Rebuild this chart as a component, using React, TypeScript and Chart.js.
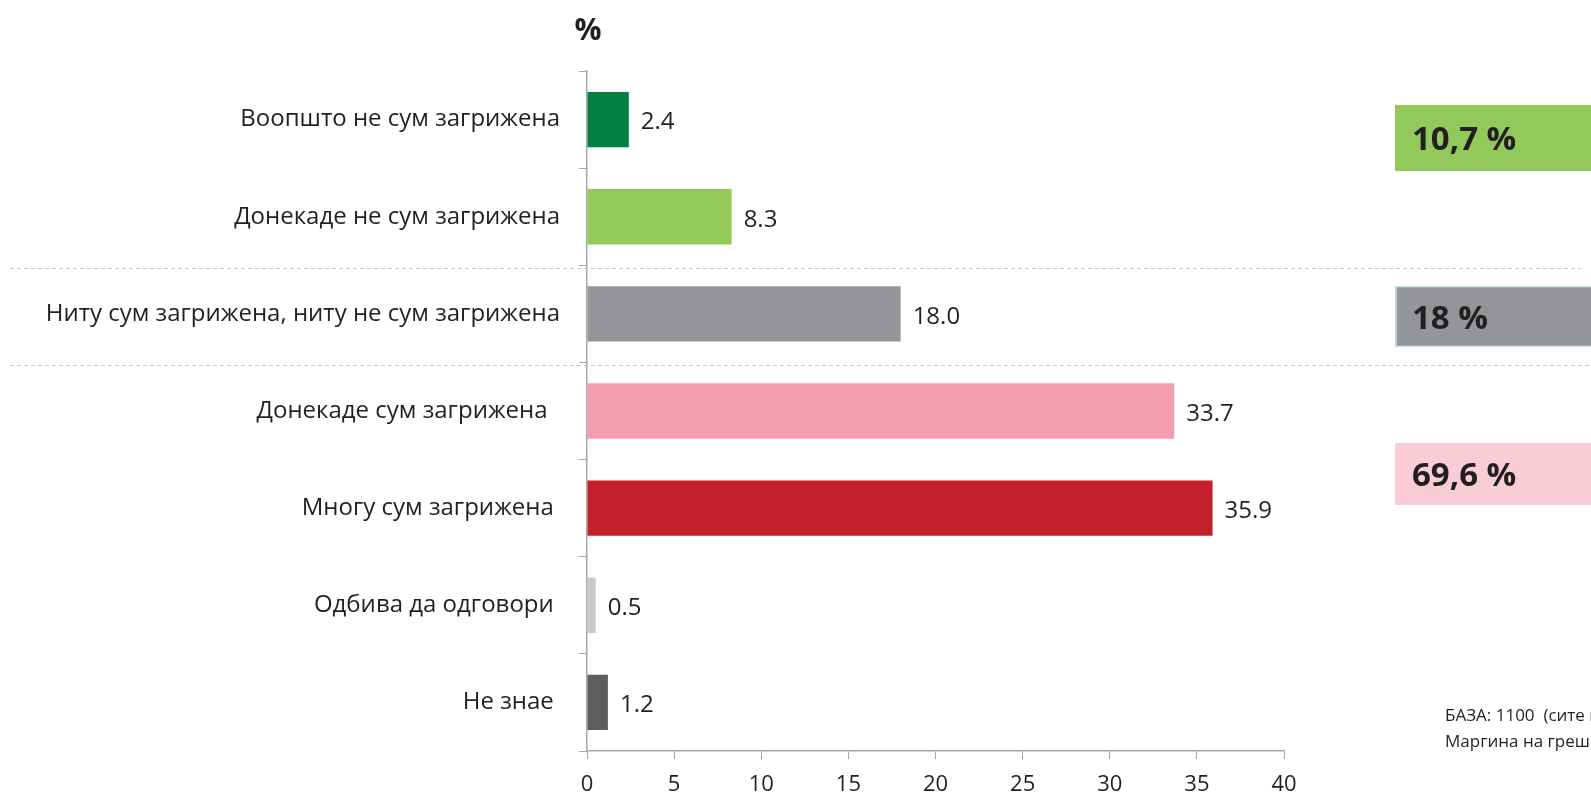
import React, { useEffect, useRef } from 'react';
import { Chart, registerables } from 'chart.js';

Chart.register(...registerables);

const categories = [
  'Воопшто не сум загрижена',
  'Донекаде не сум загрижена',
  'Ниту сум загрижена, ниту не сум загрижена',
  'Донекаде сум загрижена  ',
  'Многу сум загрижена ',
  'Одбива да одговори ',
  'Не знае ',
];
const values = [2.4, 8.3, 18.0, 33.7, 35.9, 0.5, 1.2];
const valueLabels = ['2.4', '8.3', '18.0', '33.7', '35.9', '0.5', '1.2'];
const barColors = ['#008140', '#92C95A', '#939598', '#F49DB2', '#C41F2A', '#C8C9CB', '#5E5E60'];
const groupLabels = ['10,7 %', '18 %', '69,6 %'];
const groupColors = ['#92C95A', '#939598', '#F8CDD8'];
const baseNotes = ['БАЗА: 1100  (сите испитаници)', 'Маргина на грешка: ±3%'];
const axisUnit = '%';

const FONT = '"Open Sans", "Noto Sans", sans-serif';

export default function App() {
  const ref = useRef<HTMLCanvasElement | null>(null);

  useEffect(() => {
    document.body.style.margin = '0';
    const canvas = ref.current;
    if (!canvas) return;

    const extras = {
      id: 'extras',
      beforeDatasetsDraw(chart: any) {
        const ctx = chart.ctx;
        const ys = chart.scales.y;
        ctx.save();
        ctx.strokeStyle = '#C8C8C8';
        ctx.lineWidth = 1;
        ctx.setLineDash([4, 3]);
        const seps = [
          { a: 1, b: 2, x2: 1581 },
          { a: 2, b: 3, x2: 1591 },
        ];
        seps.forEach((s) => {
          const y = Math.round((ys.getPixelForValue(s.a) + ys.getPixelForValue(s.b)) / 2 + 3) + 0.5;
          ctx.beginPath();
          ctx.moveTo(10, y);
          ctx.lineTo(s.x2, y);
          ctx.stroke();
        });
        ctx.restore();
      },
      afterDraw(chart: any) {
        const ctx = chart.ctx;
        ctx.save();
        // value labels
        const meta = chart.getDatasetMeta(0);
        ctx.font = `24px ${FONT}`;
        ctx.fillStyle = '#231F20';
        ctx.textBaseline = 'middle';
        ctx.textAlign = 'left';
        meta.data.forEach((bar: any, i: number) => {
          ctx.fillText(valueLabels[i], bar.x + 12, bar.y + 3);
        });
        // unit label
        ctx.font = `bold 30px ${FONT}`;
        ctx.textAlign = 'center';
        ctx.fillText(axisUnit, 588, 31);
        // group boxes
        const boxes = [
          { y: 105, h: 66, border: null },
          { y: 286, h: 61, border: '#CDE7EA' },
          { y: 443, h: 62, border: null },
        ];
        boxes.forEach((b, i) => {
          ctx.fillStyle = groupColors[i];
          ctx.fillRect(1395, b.y, 200, b.h);
          if (b.border) {
            ctx.strokeStyle = b.border;
            ctx.lineWidth = 1.5;
            ctx.strokeRect(1396, b.y + 0.5, 200, b.h - 1);
          }
          ctx.fillStyle = '#231F20';
          ctx.font = `bold 33px ${FONT}`;
          ctx.textAlign = 'left';
          ctx.textBaseline = 'middle';
          ctx.fillText(groupLabels[i], 1412, b.y + b.h / 2 + 3);
        });
        // base notes
        ctx.font = `17px ${FONT}`;
        ctx.fillStyle = '#231F20';
        ctx.textBaseline = 'middle';
        ctx.fillText(baseNotes[0], 1445, 716);
        ctx.fillText(baseNotes[1], 1445, 742);
        ctx.restore();
      },
    };

    const chart = new Chart(canvas, {
      type: 'bar',
      data: {
        labels: categories,
        datasets: [
          {
            data: values,
            backgroundColor: barColors,
            borderWidth: 0,
            barPercentage: 0.57,
            categoryPercentage: 1,
          },
        ],
      },
      options: {
        indexAxis: 'y',
        animation: false,
        responsive: false,
        maintainAspectRatio: false,
        layout: { padding: { top: 71, right: 307, bottom: 0, left: 0 } },
        plugins: {
          legend: { display: false },
          tooltip: { enabled: false },
        },
        scales: {
          x: {
            type: 'linear',
            min: 0,
            max: 40,
            ticks: { stepSize: 5, color: '#231F20', font: { family: FONT, size: 22 }, padding: 13 },
            grid: { drawOnChartArea: false, drawTicks: true, tickLength: 8, color: '#A6A6A6' },
            border: { color: '#A6A6A6', width: 1.5 },
            afterFit: (s: any) => { s.height = 43; },
          },
          y: {
            type: 'category',
            ticks: { color: '#231F20', font: { family: FONT, size: 24 }, padding: 19, autoSkip: false },
            grid: { drawOnChartArea: false, drawTicks: true, tickLength: 8, color: '#A6A6A6', offset: true },
            border: { color: '#A6A6A6', width: 1.5 },
            afterFit: (s: any) => { s.width = 587; },
          },
        },
      },
      plugins: [extras],
    });
    return () => chart.destroy();
  }, []);

  return (
    <div style={{ position: 'fixed', left: 0, top: 0, width: 1591, height: 794, background: '#fff' }}>
      <canvas ref={ref} width={1591} height={794} style={{ width: 1591, height: 794 }} />
    </div>
  );
}
